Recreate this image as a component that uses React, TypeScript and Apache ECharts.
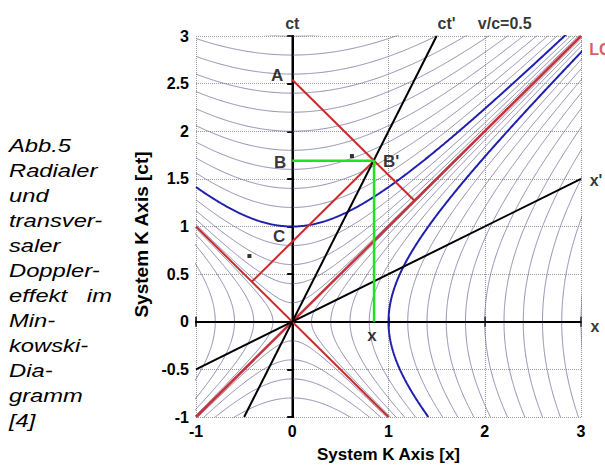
import React, { useEffect, useRef } from "react";
import * as echarts from "echarts";

// ---- data ----
const xTicks = [-1, 0, 1, 2, 3];
const yTicks = [-1, -0.5, 0, 0.5, 1, 1.5, 2, 2.5, 3];
// invariant intervals (s) of the hyperbola family t^2 - x^2 = ±s^2
const hyperbolaIntervals = [0.2, 0.4, 0.6, 0.8, 1.0, 1.2, 1.4, 1.6, 1.8, 2.0, 2.2, 2.4, 2.6, 2.8, 3.0];
const highlightedInterval = 1.0;
const lightCone = [[-1, -1], [3, 3]];
const lightConeBack = [[-1, 1], [1, -1]];
const ctAxisLine = [[0, -1], [0, 3]];
const xAxisLine = [[-1, 0], [3, 0]];
const ctPrimeAxis = [[-0.5, -1], [1.5, 3]];
const xPrimeAxis = [[-1, -0.5], [3, 1.5]];
const signalFromA = [[0, 2.54], [1.27, 1.27]];
const signalThroughC = [[-0.42, 0.42], [0.85, 1.69]];
const projectionB = [[0, 1.69], [0.85, 1.69], [0.85, 0]];
const smallMarkers = [[0.62, 1.74], [-0.445, 0.69]];
const pointLabels = [
  { text: "A", x: 0, y: 2.54 },
  { text: "B", x: 0, y: 1.69 },
  { text: "C", x: 0, y: 0.84 },
  { text: "B'", x: 0.85, y: 1.69 },
  { text: "x", x: 0.85, y: 0 },
];
const frameLabels = [
  { text: "ct", x: 0, y: 3 },
  { text: "ct'", x: 1.5, y: 3 },
  { text: "v/c=0.5", x: 2, y: 3 },
  { text: "LC", x: 3, y: 3 },
  { text: "x'", x: 3, y: 1.5 },
  { text: "x", x: 3, y: 0 },
];
const xAxisTitle = "System K Axis [x]";
const yAxisTitle = "System K Axis [ct]";
const captionLines = [
  "Abb.5", "Radialer", "und", "transver-", "saler", "Doppler-",
  "effekt   im", "Min-", "kowski-", "Dia-", "gramm", "[4]",
];

// ---- styling ----
const labelOffsets: Record<string, number[]> = {
  "A": [-15, -4.5], "B": [-12, 2], "C": [-13, -5], "B'": [17, 1], "x": [-2, 14],
};
const frameOffsets: Record<string, number[]> = {
  "ct": [0, -13], "ct'": [10, -13], "v/c=0.5": [20, -13], "LC": [19, 13], "x'": [15, 2], "x_r": [14, 5],
};
const SANS = "'Liberation Sans', Arial, sans-serif";

function timeHyperbola(s: number, sign: number) {
  const pts: number[][] = [];
  for (let i = 0; i <= 400; i++) {
    const x = -1 + i * 0.01;
    pts.push([x, sign * Math.sqrt(x * x + s * s)]);
  }
  return pts;
}
function spaceHyperbola(s: number, sign: number) {
  const pts: number[][] = [];
  for (let i = 0; i <= 400; i++) {
    const t = -1 + i * 0.01;
    pts.push([sign * Math.sqrt(t * t + s * s), t]);
  }
  return pts;
}

function lineSeries(data: number[][], color: string, width: number, z: number) {
  return {
    type: "line",
    data,
    showSymbol: false,
    symbol: "none",
    silent: true,
    lineStyle: { color, width },
    z,
  };
}

export default function App() {
  const ref = useRef<HTMLDivElement>(null);
  useEffect(() => {
    if (!ref.current) return;
    const chart = echarts.init(ref.current, undefined, { renderer: "svg" });
    const series: any[] = [];
    hyperbolaIntervals.forEach((s) => {
      const isHi = s === highlightedInterval;
      const color = isHi ? "#1f1fb0" : "#74749e";
      const w = isHi ? 2 : 0.8;
      const z = isHi ? 3 : 2;
      series.push(lineSeries(timeHyperbola(s, 1), color, w, z));
      series.push(lineSeries(spaceHyperbola(s, 1), color, w, z));
      if (s < 1) {
        series.push(lineSeries(timeHyperbola(s, -1), "#74749e", 0.8, 2));
        series.push(lineSeries(spaceHyperbola(s, -1), "#74749e", 0.8, 2));
      }
    });
    series.push(lineSeries(ctAxisLine, "#000", 1.5, 4));
    series.push(lineSeries(xAxisLine, "#000", 1.5, 4));
    series.push(lineSeries(lightCone, "#c8323a", 2.5, 5));
    series.push(lineSeries(lightConeBack, "#cc2a2a", 2, 5));
    series.push(lineSeries(signalFromA, "#cc2a2a", 2, 5));
    series.push(lineSeries(signalThroughC, "#cc2a2a", 2, 5));
    series.push(lineSeries(ctPrimeAxis, "#000", 2, 6));
    series.push(lineSeries(xPrimeAxis, "#000", 2, 6));
    series.push(lineSeries(projectionB, "#22e022", 2.5, 7));
    series.push({
      type: "scatter",
      data: smallMarkers,
      symbol: "rect",
      symbolSize: 4,
      itemStyle: { color: "#000" },
      z: 8,
      silent: true,
    });
    series.push({
      type: "scatter",
      clip: false,
      silent: true,
      symbolSize: 0,
      z: 9,
      data: pointLabels.map((p) => ({
        value: [p.x, p.y],
        label: {
          show: true,
          position: "inside",
          formatter: p.text,
          offset: labelOffsets[p.text],
          fontFamily: SANS,
          fontWeight: "bold",
          fontSize: 17,
          color: "#000",
        },
      })),
    });
    series.push({
      type: "scatter",
      clip: false,
      silent: true,
      symbolSize: 0,
      z: 9,
      data: frameLabels.map((p) => {
        const key = p.text === "x" ? "x_r" : p.text;
        return {
          value: [p.x, p.y],
          label: {
            show: true,
            position: "inside",
            formatter: p.text,
            offset: frameOffsets[key],
            fontFamily: SANS,
            fontWeight: "bold",
            fontSize: 16,
            color: p.text === "LC" ? "#d0303a" : "#000",
          },
        };
      }),
    });

    const axisLine = { show: true, lineStyle: { color: "#000", width: 2 } };
    const tickLabel = {
      fontFamily: SANS,
      fontWeight: "bold",
      fontSize: 16,
      color: "#000",
    };
    chart.setOption({
      animation: false,
      backgroundColor: "#fff",
      grid: { left: 196, right: 24, top: 36, bottom: 50, containLabel: false },
      xAxis: [
        {
          type: "value",
          min: xTicks[0],
          max: xTicks[xTicks.length - 1],
          interval: 1,
          position: "bottom",
          axisLine,
          axisTick: { show: true, inside: true, length: 5, lineStyle: { color: "#000", width: 1.5 } },
          axisLabel: { ...tickLabel, margin: 6 },
          splitLine: { show: true, lineStyle: { type: "dotted", color: "#9a9a9a", width: 1 } },
          name: xAxisTitle,
          nameLocation: "middle",
          nameGap: 29,
          nameTextStyle: { fontFamily: SANS, fontWeight: "bold", fontSize: 17, color: "#000" },
        },
        {
          type: "value",
          min: xTicks[0],
          max: xTicks[xTicks.length - 1],
          interval: 1,
          position: "top",
          axisLine,
          axisTick: { show: true, inside: true, length: 5, lineStyle: { color: "#000", width: 1.5 } },
          axisLabel: { show: false },
          splitLine: { show: false },
        },
      ],
      yAxis: [
        {
          type: "value",
          min: yTicks[0],
          max: yTicks[yTicks.length - 1],
          interval: 0.5,
          position: "left",
          axisLine,
          axisTick: { show: true, inside: false, length: 5, lineStyle: { color: "#000", width: 1.5 } },
          axisLabel: { ...tickLabel, margin: 7 },
          splitLine: { show: true, lineStyle: { type: "dotted", color: "#9a9a9a", width: 1 } },
          name: yAxisTitle,
          nameLocation: "middle",
          nameGap: 29,
          nameRotate: 90,
          nameTextStyle: {
            fontFamily: SANS,
            fontWeight: "bold",
            fontSize: 19,
            color: "#000",
            padding: [0, 16, 0, 0],
          },
        },
        {
          type: "value",
          min: yTicks[0],
          max: yTicks[yTicks.length - 1],
          interval: 0.5,
          position: "right",
          axisLine,
          axisTick: { show: true, inside: true, length: 5, lineStyle: { color: "#000", width: 1.5 } },
          axisLabel: { show: false },
          splitLine: { show: false },
        },
      ],
      graphic: [
        {
          type: "text",
          x: 9,
          y: 133.5,
          scaleX: 1.25,
          style: {
            text: captionLines.join("\n"),
            fontFamily: SANS,
            fontStyle: "italic",
            fontSize: 19,
            lineHeight: 25,
            fill: "#000",
            verticalAlign: "top",
            align: "left",
          },
        },
      ],
      series,
    });
    return () => chart.dispose();
  }, []);
  return (
    <div
      ref={ref}
      style={{ position: "absolute", left: 0, top: 0, width: 605, height: 468 }}
    />
  );
}
